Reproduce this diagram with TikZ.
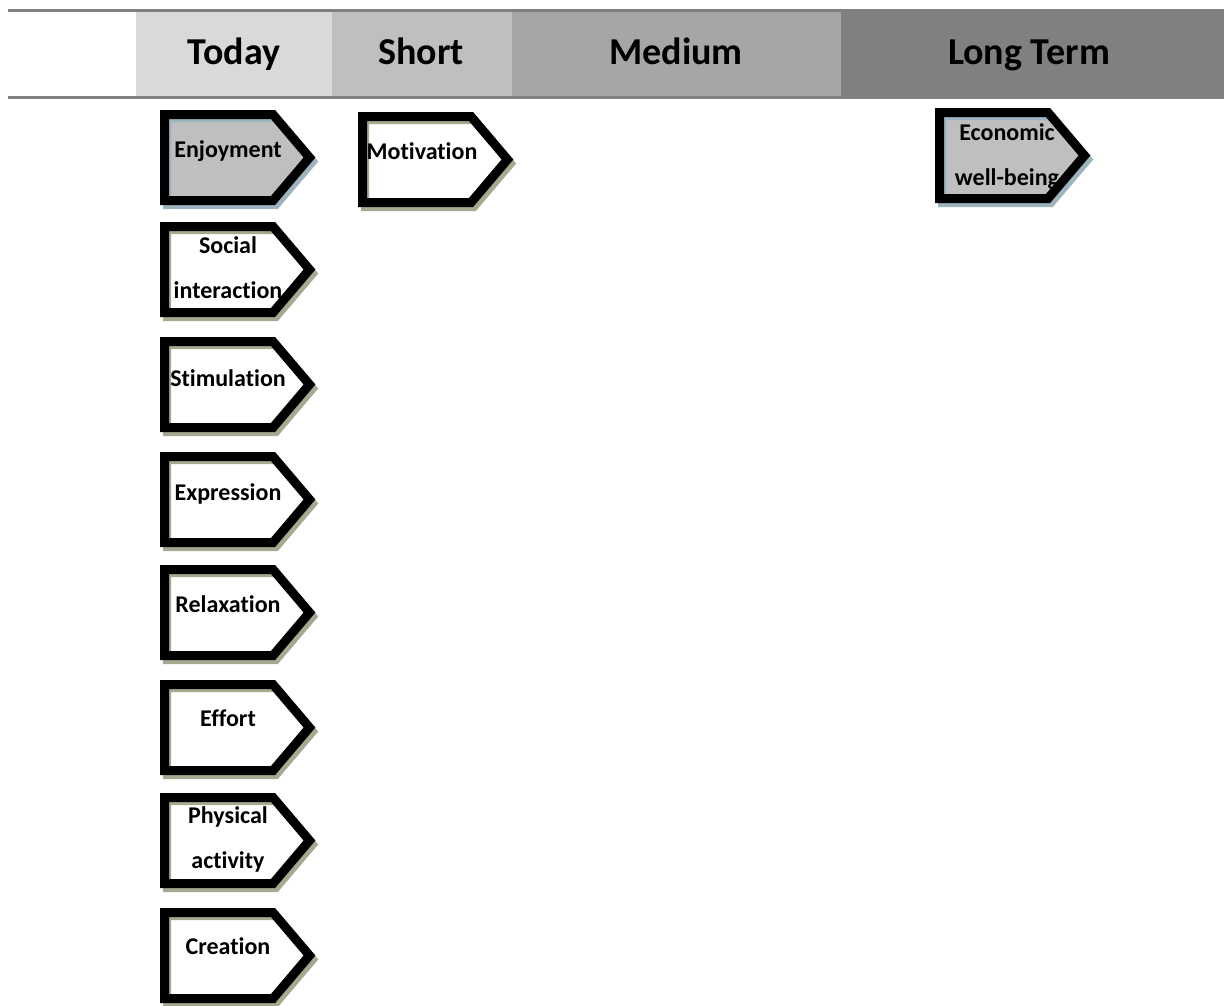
\documentclass[tikz,border=0pt]{standalone}
\usepackage{fontspec}
\setmainfont[Ligatures=NoCommon]{Carlito}
\definecolor{hdA}{HTML}{D9D9D9}
\definecolor{hdB}{HTML}{BFBFBF}
\definecolor{hdC}{HTML}{A6A6A6}
\definecolor{hdD}{HTML}{808080}
\definecolor{boxgrey}{HTML}{BFBFBF}
\definecolor{shOlive}{HTML}{A6A98F}
\definecolor{shBlue}{HTML}{9DB3BD}
\newcommand\twolines[2]{\vtop{\halign{\hfil##\hfil\cr#1\cr#2\cr}}}
% name, left, top, fill, shadow colour
\newcommand\tagbox[5]{%
  \begin{scope}[shift={(#2,#3)}]
    \fill[#4] (4,4) -- (113,4) -- (150,47.5) -- (113,91) -- (4,91) -- cycle;
    \draw[#5, line width=8pt, line join=miter] (7,8) -- (116,8) -- (153,51.5) -- (116,95) -- (7,95) -- cycle;
    \draw[black, line width=9pt, line join=miter] (4.5,4.5) -- (113,4.5) -- (149.5,47.5) -- (113,90.5) -- (4.5,90.5) -- cycle;
    \coordinate (#1) at (77,47.5);
  \end{scope}}
\begin{document}
\begin{tikzpicture}[x=1pt,y=-1pt,
  hdtext/.style={font=\fontsize{38}{42}\selectfont\bfseries, anchor=base, inner sep=0pt},
  bxtext/.style={font=\fontsize{24}{45}\selectfont\bfseries, anchor=base, inner sep=0pt}]
\useasboundingbox (0,0) rectangle (1224,1005);
% header band
\fill[hdA] (136,12) rectangle (332,96);
\fill[hdB] (332,12) rectangle (512,96);
\fill[hdC] (512,12) rectangle (841,96);
\fill[hdD] (841,9) rectangle (1224,99);
\fill[hdD] (8,9) rectangle (1224,12);
\fill[hdD] (8,96) rectangle (1224,99);
\node[hdtext] (today) at (234,64.5) {Today};
\node[hdtext] (short) at (421,64.5) {Short};
\node[hdtext] (medium) at (676,64.5) {Medium};
\node[hdtext] (longterm) at (1029,64.5) {Long Term};
% boxes
\tagbox{bEnj}{160}{110}{boxgrey}{shBlue}
\node[bxtext] (enjoyment) at (228,157) {Enjoyment};
\tagbox{bMot}{358}{112}{white}{shOlive}
\node[bxtext] (motivation) at (422,159) {Motivation};
\tagbox{bEco}{935}{108}{boxgrey}{shBlue}
\node[bxtext] (economic) at (1007,140) {\twolines{Economic}{well-being}};
\tagbox{bSoc}{160}{222}{white}{shOlive}
\node[bxtext] (social) at (228,253) {\twolines{Social}{interaction}};
\tagbox{bSti}{160}{337}{white}{shOlive}
\node[bxtext] (stimulation) at (228,386) {Stimulation};
\tagbox{bExp}{160}{452}{white}{shOlive}
\node[bxtext] (expression) at (228,500) {Expression};
\tagbox{bRel}{160}{565}{white}{shOlive}
\node[bxtext] (relaxation) at (228,612) {Relaxation};
\tagbox{bEff}{160}{680}{white}{shOlive}
\node[bxtext] (effort) at (228,726) {Effort};
\tagbox{bPhy}{160}{793}{white}{shOlive}
\node[bxtext] (physical) at (228,823) {\twolines{Physical}{activity}};
\tagbox{bCre}{160}{908}{white}{shOlive}
\node[bxtext] (creation) at (228,954) {Creation};
\end{tikzpicture}
\end{document}
